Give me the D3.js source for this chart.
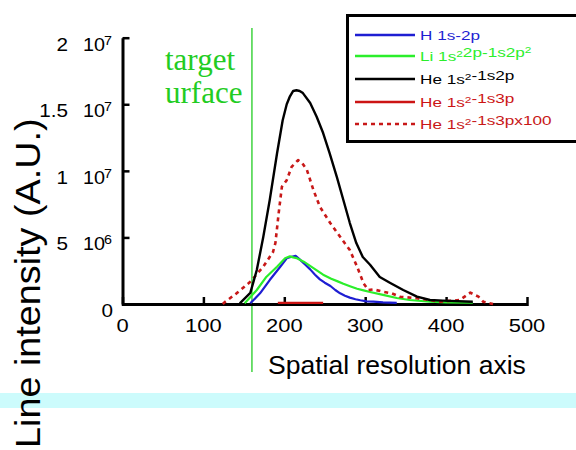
<!DOCTYPE html>
<html>
<head>
<meta charset="utf-8">
<script src="https://cdn.jsdelivr.net/npm/d3@7/dist/d3.min.js"></script>
<style>
  html, body { margin: 0; padding: 0; background: #fff; }
  svg { display: block; }
  text { font-family: "Liberation Sans", Arial, Helvetica, sans-serif; }
</style>
</head>
<body>
<svg id="chart" width="576" height="450"></svg>
<script>
// Spatial profiles of line intensities (values in units of 10^6 A.U.)
const xTicks = [0, 100, 200, 300, 400, 500];
const yTicks = [0, 5, 10, 15, 20];
const yTickMantissa = ["0", "5", "1", "1.5", "2"];
const yTickExponent = ["", "6", "7", "7", "7"];

// H 1s-2p
const hX = [158, 170, 182, 195, 203, 209, 214, 219, 226, 232, 238, 244, 250, 257, 263, 269, 275, 281, 288, 294, 302, 310, 322, 339];
const hY = [0.05, 0.8, 1.8, 2.8, 3.43, 3.55, 3.62, 3.35, 2.95, 2.6, 2.2, 1.85, 1.6, 1.35, 1.05, 0.8, 0.62, 0.48, 0.36, 0.28, 0.2, 0.18, 0.12, 0.08];

// Li 1s^2 2p - 1s 2p^2
const liX = [151, 166, 178, 191, 201, 207, 211, 215, 224, 236, 248, 258, 266, 273, 282, 290, 298, 306, 322, 339, 355, 380, 400, 433];
const liY = [0.05, 1.05, 2.05, 2.8, 3.43, 3.58, 3.5, 3.45, 3.18, 2.7, 2.2, 1.9, 1.7, 1.52, 1.32, 1.15, 1.02, 0.9, 0.68, 0.45, 0.3, 0.17, 0.12, 0.1];

// He 1s^2 - 1s2p
const heX = [145, 158, 166, 174, 182, 191, 198, 203, 207, 211, 215, 219, 223, 232, 240, 248, 256, 265, 273, 281, 289, 297, 306, 318, 331, 347, 364, 380, 396, 433];
const heY = [0.05, 0.83, 2.55, 5.03, 7.81, 11.3, 13.8, 15.0, 15.6, 16.0, 16.05, 16.0, 15.84, 15.09, 14.06, 12.84, 11.34, 9.53, 7.81, 6.08, 4.58, 3.53, 2.95, 2.03, 1.58, 1.05, 0.55, 0.3, 0.25, 0.17];

// He 1s^2 - 1s3p
const he3X = [192, 200, 220, 240, 248];
const he3Y = [0.08, 0.08, 0.08, 0.08, 0.08];

// He 1s^2 - 1s3p x100
const he3x100X = [124, 127, 141, 158, 174, 186, 189, 193, 197, 203, 209, 217, 222, 228, 236, 244, 257, 269, 281, 290, 298, 304, 310, 322, 333, 343, 364, 380, 393, 417, 430, 440, 446, 458];
const he3x100Y = [0, 0.17, 0.8, 1.67, 2.8, 3.9, 4.58, 6.8, 8.8, 9.3, 10.3, 10.8, 10.6, 10.06, 8.56, 7.3, 6.06, 5.05, 4.05, 2.8, 1.55, 1.05, 1.1, 0.92, 0.8, 0.55, 0.43, 0.3, 0.17, 0.3, 0.85, 0.55, 0.17, 0];

const legendLabels = [
  [{t: "H 1s-2p"}],
  [{t: "Li 1s"}, {t: "2", sup: true}, {t: "2p-1s2p"}, {t: "2", sup: true}],
  [{t: "He 1s"}, {t: "2", sup: true}, {t: "-1s2p"}],
  [{t: "He 1s"}, {t: "2", sup: true}, {t: "-1s3p"}],
  [{t: "He 1s"}, {t: "2", sup: true}, {t: "-1s3px100"}]
];

const series = [
  {xs: hX, ys: hY, color: "#1e1ed2", dash: null, width: 2.2},
  {xs: liX, ys: liY, color: "#2bee2b", dash: null, width: 2.2},
  {xs: he3X, ys: he3Y, color: "#cc1414", dash: null, width: 2.2},
  {xs: he3x100X, ys: he3x100Y, color: "#c81818", dash: "4,4", width: 2.6},
  {xs: heX, ys: heY, color: "#000000", dash: null, width: 2.4}
];
const legendStyle = [series[0], series[1], series[4], series[2], series[3]];

const svg = d3.select("#chart");
const x = d3.scaleLinear().domain([0, 500]).range([122.5, 527]);
const y = d3.scaleLinear().domain([0, 20]).range([304, 37.7]);

// band behind the vertical title
svg.append("rect").attr("x", 0).attr("y", 393).attr("width", 576).attr("height", 15).attr("fill", "#ccfbfc");

// target surface marker
svg.append("line")
  .attr("x1", x(160)).attr("x2", x(160))
  .attr("y1", 28).attr("y2", 372)
  .attr("stroke", "#22cc22").attr("stroke-width", 1.3);

svg.append("text").attr("x", 165).attr("y", 70)
  .attr("fill", "#22cc22").style("font-family", "'Liberation Serif', 'Times New Roman', serif")
  .style("font-size", "31px").text("target");
svg.append("text").attr("x", 165).attr("y", 103)
  .attr("fill", "#22cc22").style("font-family", "'Liberation Serif', 'Times New Roman', serif")
  .style("font-size", "31px").text("urface");

// axes
const xAxis = d3.axisBottom(x).tickValues(xTicks).tickSize(0).tickFormat("");
const gx = svg.append("g").attr("transform", "translate(0,304)").call(xAxis);
gx.select(".domain").attr("stroke", "#000").attr("stroke-width", 3);
gx.selectAll(".tick line").attr("y1", 2).attr("y2", -7).attr("stroke", "#000").attr("stroke-width", 2.5);

const yAxis = d3.axisLeft(y).tickValues(yTicks).tickSize(0).tickFormat("");
const gy = svg.append("g").attr("transform", "translate(122.5,0)").call(yAxis);
gy.select(".domain").attr("stroke", "#000").attr("stroke-width", 3);
gy.selectAll(".tick line").attr("x1", 0).attr("x2", 7).attr("stroke", "#000").attr("stroke-width", 2.5);

// x tick labels
xTicks.forEach(v => {
  svg.append("text")
    .attr("transform", `translate(${x(v)},332) scale(1.22,1)`)
    .attr("text-anchor", "middle").style("font-size", "18px").attr("fill", "#000")
    .text(v);
});

// y tick labels in "m 10^e" form
yTicks.forEach((v, i) => {
  const by = y(v) + 13;
  svg.append("text")
    .attr("transform", `translate(${i === 0 ? 113 : 68},${by}) scale(1.15,1)`)
    .attr("text-anchor", "end").style("font-size", "18px").attr("fill", "#000")
    .text(yTickMantissa[i]);
  if (yTickExponent[i]) {
    svg.append("text")
      .attr("transform", `translate(83,${by}) scale(1.1,1)`)
      .style("font-size", "18px").attr("fill", "#000").text("10");
    svg.append("text")
      .attr("transform", `translate(104,${by - 6}) scale(1.1,1)`)
      .style("font-size", "13px").attr("fill", "#000").text(yTickExponent[i]);
  }
});

// curves
const line = d3.line().x(d => x(d[0])).y(d => y(d[1]));
series.forEach(s => {
  const pts = s.xs.map((xv, i) => [xv, s.ys[i]]);
  svg.append("path").datum(pts)
    .attr("d", line).attr("fill", "none")
    .attr("stroke", s.color).attr("stroke-width", s.width)
    .attr("stroke-dasharray", s.dash)
    .attr("stroke-linejoin", "round");
});

// axis titles
svg.append("text")
  .attr("transform", "translate(268,374) scale(1.02,1)")
  .style("font-size", "26px").attr("fill", "#000").text("Spatial resolution axis");
svg.append("text")
  .attr("transform", "translate(40,448) rotate(-90) scale(1.08,1)")
  .style("font-size", "35px").attr("fill", "#000").text("Line intensity (A.U.)");

// legend
const lg = svg.append("g");
lg.append("rect").attr("x", 347.5).attr("y", 15.5).attr("width", 240).attr("height", 126)
  .attr("fill", "#fff").attr("stroke", "#000").attr("stroke-width", 3);
const rowY = [35, 56, 79, 102, 124];
legendLabels.forEach((parts, i) => {
  const s = legendStyle[i];
  lg.append("line").attr("x1", 355).attr("x2", 415).attr("y1", rowY[i]).attr("y2", rowY[i])
    .attr("stroke", s.color).attr("stroke-width", 2.4).attr("stroke-dasharray", s.dash);
  const t = lg.append("text")
    .attr("transform", `translate(420,${rowY[i] + 5}) scale(1.32,1)`)
    .style("font-size", "13px").attr("fill", s.color);
  parts.forEach(p => {
    if (p.sup) {
      t.append("tspan").attr("dy", -4).style("font-size", "9px").text(p.t);
      t.append("tspan").attr("dy", 4).text("");
    } else {
      t.append("tspan").text(p.t);
    }
  });
});
</script>
</body>
</html>
